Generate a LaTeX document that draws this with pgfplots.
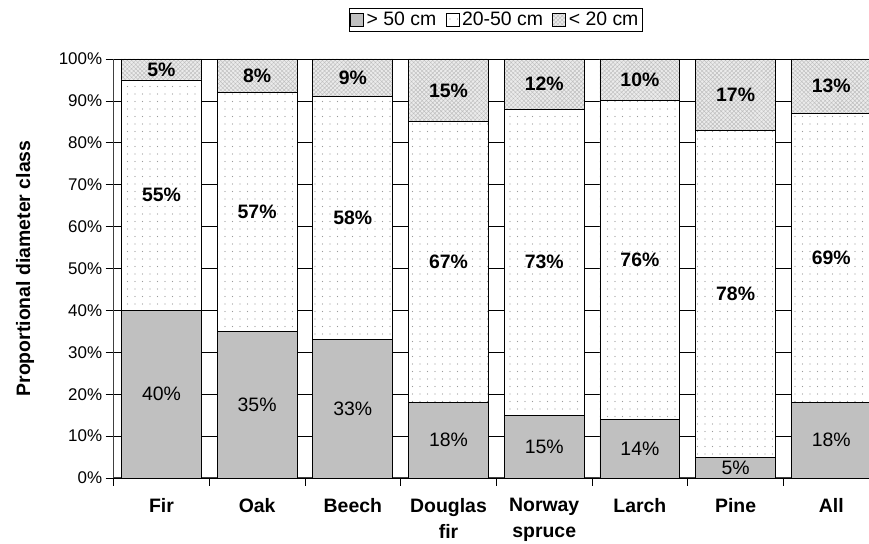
\documentclass[border=0pt]{standalone}
\usepackage{fontspec}
\setmainfont{Liberation Sans}
\usepackage{pgfplots}
\pgfplotsset{compat=1.18}
\usepackage{pgfplotstable}
\usetikzlibrary{patterns.meta}

\definecolor{barg}{RGB}{192,192,192}

\pgfplotsset{
    sqlegend/.style={legend image code/.code={\draw[##1] (0bp,-6.5bp) rectangle (13bp,6.5bp);}},
}

% share of each diameter class (%)
\pgfplotstableread{
x big mid small
0 40 55 5
1 35 57 8
2 33 58 9
3 18 67 15
4 15 73 12
5 14 76 10
6 5 78 17
7 18 69 13
}\diam

% label positions (middle of each segment)
\pgfplotstableread{
x ybig lbig ymid lmid ysmall lsmall
0 20 40 67.5 55 97.5 5
1 17.5 35 63.5 57 96 8
2 16.5 33 62 58 95.5 9
3 9 18 51.5 67 92.5 15
4 7.5 15 51.5 73 94 12
5 7 14 52 76 95 10
6 2.5 5 44 78 91.5 17
7 9 18 52.5 69 93.5 13
}\labs

\newcommand{\tfont}{\fontsize{17}{20}\selectfont}
\newcommand{\dfont}{\fontsize{19.5}{23}\selectfont}
\newcommand{\lfont}{\fontsize{19.5}{23}\selectfont}

\begin{document}
\begin{tikzpicture}
\begin{axis}[
    name=ax,
    scale only axis,
    width=755.4bp, height=419bp,
    ybar stacked,
    bar width=0.835,
    xmin=-0.5, xmax=7.394,
    ymin=0, ymax=100,
    axis x line*=bottom,
    axis y line*=left,
    axis line style={black!75, line width=1bp},
    tick align=outside,
    major tick length=8bp,
    minor tick length=8bp,
    ytick={0,10,...,100},
    yticklabels={0\%,10\%,20\%,30\%,40\%,50\%,60\%,70\%,80\%,90\%,100\%},
    yticklabel style={font=\tfont},
    ytick style={black, line width=0.7bp},
    xtick={0,...,7},
    xticklabels={Fir,Oak,Beech,{Douglas\\fir},{Norway\\spruce},Larch,Pine,All},
    xticklabel style={font=\fontsize{19.5}{26}\selectfont\bfseries, align=center, yshift=-9bp},
    major x tick style={draw=none},
    minor xtick={-0.5,0.5,...,6.5},
    minor x tick style={black, line width=0.7bp},
    ymajorgrids,
    major grid style={black, line width=0.6bp},
    ylabel={Proportional diameter class},
    ylabel style={font=\dfont\bfseries, at={(axis description cs:-0.1173,0.5)}, anchor=center},
    legend columns=3,
    legend style={at={(0.5057,1.094)}, anchor=center, draw=black, font=\lfont,
        nodes={font=\lfont, inner sep=2.5bp},
        inner sep=1.5bp,
        /tikz/every even column/.append style={column sep=7bp},
        /tikz/every odd column/.append style={column sep=0bp}},
]
\addplot[fill=barg, draw=black, line width=0.8bp, sqlegend]
    table[x=x, y=big] {\diam};
\addlegendentry{> 50 cm}
\addplot[fill=white, draw=black, line width=0.8bp,
    postaction={pattern={Dots[distance=7.5bp, radius=0.65bp]}, pattern color=gray!80}, sqlegend]
    table[x=x, y=mid] {\diam};
\addlegendentry{20-50 cm}
\addplot[fill=gray!16, draw=black, line width=0.8bp,
    postaction={pattern={Hatch[angle=45, distance=3bp, line width=0.45bp]}, pattern color=gray!50}, sqlegend]
    table[x=x, y=small] {\diam};
\addlegendentry{< 20 cm}
\end{axis}

\begin{axis}[
    scale only axis,
    width=755.4bp, height=419bp,
    xmin=-0.5, xmax=7.394,
    ymin=0, ymax=100,
    hide axis, clip=false,
    point meta=explicit symbolic,
    nodes near coords={\pgfplotspointmeta\%},
    nodes near coords align={center},
]
\addplot[draw=none, mark=none, every node near coord/.append style={font=\dfont}]
    table[x=x, y=ybig, meta=lbig] {\labs};
\addplot[draw=none, mark=none, every node near coord/.append style={font=\dfont\bfseries}]
    table[x=x, y=ymid, meta=lmid] {\labs};
\addplot[draw=none, mark=none, every node near coord/.append style={font=\dfont\bfseries}]
    table[x=x, y=ysmall, meta=lsmall] {\labs};
\end{axis}

\pgfresetboundingbox
\path[use as bounding box] ([xshift=-113.6bp, yshift=-66bp]ax.south west)
    rectangle ([yshift=59bp]ax.north east);
\end{tikzpicture}
\end{document}
